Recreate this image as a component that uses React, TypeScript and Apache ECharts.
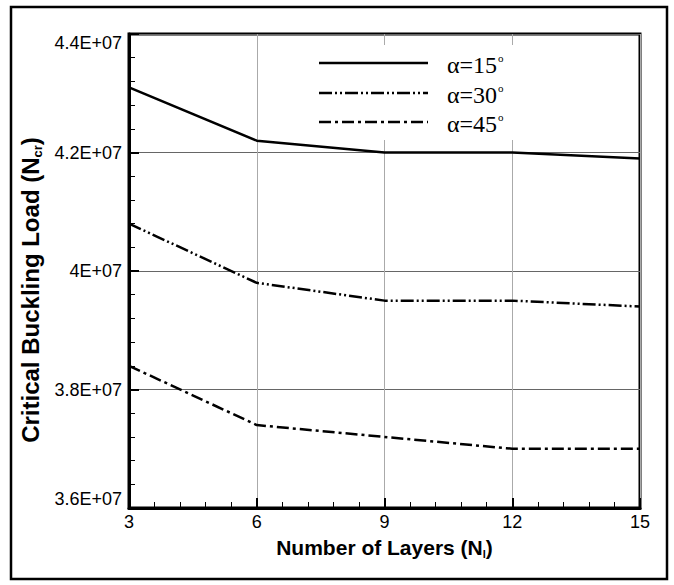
import React, { useEffect, useRef } from "react";
import * as echarts from "echarts";

const layers = [3, 6, 9, 12, 15];
const seriesNames = ["α=15", "α=30", "α=45"];
const alpha15 = [4.31e7, 4.22e7, 4.2e7, 4.2e7, 4.19e7];
const alpha30 = [4.08e7, 3.98e7, 3.95e7, 3.95e7, 3.94e7];
const alpha45 = [3.84e7, 3.74e7, 3.72e7, 3.7e7, 3.7e7];
const yTickValues = [3.6e7, 3.8e7, 4.0e7, 4.2e7, 4.4e7];
const yTickLabels = ["3.6E+07", "3.8E+07", "4E+07", "4.2E+07", "4.4E+07"];

const dashes: (string | number[])[] = ["solid", [13, 3, 2, 3, 2, 3], [12, 4, 3, 4]];

export default function App() {
  const ref = useRef<HTMLDivElement>(null);
  useEffect(() => {
    if (!ref.current) return;
    const chart = echarts.init(ref.current, undefined, { renderer: "svg" });
    const all = [alpha15, alpha30, alpha45];
    const legendY = [63, 93, 122];
    const legendGraphics: any[] = [];
    seriesNames.forEach((n, i) => {
      legendGraphics.push({
        type: "line",
        shape: { x1: 319, y1: legendY[i], x2: 428, y2: legendY[i] },
        style: {
          stroke: "#000",
          lineWidth: 2.5,
          lineDash: dashes[i] === "solid" ? null : (dashes[i] as number[]),
        },
        z: 10,
      });
      legendGraphics.push({
        type: "text",
        x: 447,
        y: legendY[i] + 2,
        style: {
          text: n + "{sup|o}",
          fill: "#000",
          font: "24px 'Liberation Serif', 'Times New Roman', serif",
          verticalAlign: "middle",
          rich: {
            sup: {
              fontSize: 11,
              fontFamily: "'Liberation Serif', serif",
              padding: [0, 0, 14, 1],
            },
          },
        },
        z: 10,
      });
    });
    chart.setOption({
      animation: false,
      backgroundColor: "#fff",
      grid: {
        left: 129,
        right: 34,
        top: 34,
        bottom: 77,
        show: true,
        borderColor: "#000",
        borderWidth: 3,
        backgroundColor: "transparent",
      },
      xAxis: {
        type: "value",
        min: 3,
        max: 15,
        interval: 3,
        name: "Number of Layers (N{sub|l})",
        nameLocation: "middle",
        nameGap: 28,
        nameTextStyle: {
          fontFamily: "'Liberation Sans', Arial, sans-serif",
          fontWeight: "bold",
          fontSize: 21,
          color: "#000",
          rich: {
            sub: {
              fontSize: 11,
              fontWeight: "bold",
              fontFamily: "'Liberation Sans', Arial, sans-serif",
              padding: [12, 0, 0, 0],
            },
          },
        },
        axisLine: { show: true, lineStyle: { color: "#000", width: 3 } },
        axisTick: { show: true, inside: true, length: 10, lineStyle: { color: "#000", width: 2 } },
        minorTick: { show: true, splitNumber: 5, length: 6, lineStyle: { color: "#000", width: 1 } },
        splitLine: { show: true, lineStyle: { color: "#aaa", width: 1 } },
        axisLabel: {
          color: "#000",
          fontSize: 18,
          fontFamily: "'Liberation Sans', Arial, sans-serif",
          margin: 5,
          formatter: (v: number) => (layers.includes(v) ? String(v) : ""),
        },
      },
      yAxis: {
        type: "value",
        min: 3.6e7,
        max: 4.4e7,
        interval: 0.2e7,
        name: "Critical Buckling Load (N{sub|cr})",
        nameLocation: "middle",
        nameGap: 72,
        nameRotate: 90,
        nameTextStyle: {
          fontFamily: "'Liberation Sans', Arial, sans-serif",
          fontWeight: "bold",
          fontSize: 24,
          color: "#000",
          padding: [0, 38, 0, 0],
          rich: {
            sub: {
              fontSize: 13,
              fontWeight: "bold",
              fontFamily: "'Liberation Sans', Arial, sans-serif",
              padding: [14, 0, 0, 0],
            },
          },
        },
        axisLine: { show: true, lineStyle: { color: "#000", width: 3 } },
        axisTick: { show: true, inside: true, length: 10, lineStyle: { color: "#000", width: 2 } },
        minorTick: { show: true, splitNumber: 5, length: 6, lineStyle: { color: "#000", width: 1 } },
        splitLine: { show: true, lineStyle: { color: "#666", width: 1 } },
        axisLabel: {
          color: "#000",
          fontSize: 18,
          fontFamily: "'Liberation Sans', Arial, sans-serif",
          margin: 7,
          verticalAlignMinLabel: "bottom",
          verticalAlignMaxLabel: "top",
          formatter: (v: number) => {
            const idx = yTickValues.findIndex((t) => Math.abs(t - v) < 1);
            return idx >= 0 ? yTickLabels[idx] : "";
          },
        },
      },
      graphic: [
        {
          type: "rect",
          shape: { x: 11, y: 7, width: 656, height: 572 },
          style: { fill: "none", stroke: "#000", lineWidth: 2.5 },
          z: 10,
        },
        {
          type: "rect",
          shape: { x: 305, y: 45, width: 215, height: 95 },
          style: { fill: "#fff", stroke: "none" },
          z: 5,
        },
        ...legendGraphics,
      ],
      series: all.map((d, i) => ({
        name: seriesNames[i],
        type: "line",
        data: layers.map((x, j) => [x, d[j]]),
        showSymbol: false,
        symbol: "none",
        z: 3,
        lineStyle: { color: "#000", width: 2.5, type: dashes[i] },
      })),
    });
    return () => chart.dispose();
  }, []);
  return <div ref={ref} style={{ width: 674, height: 585, position: "absolute", left: 0, top: 0 }} />;
}
